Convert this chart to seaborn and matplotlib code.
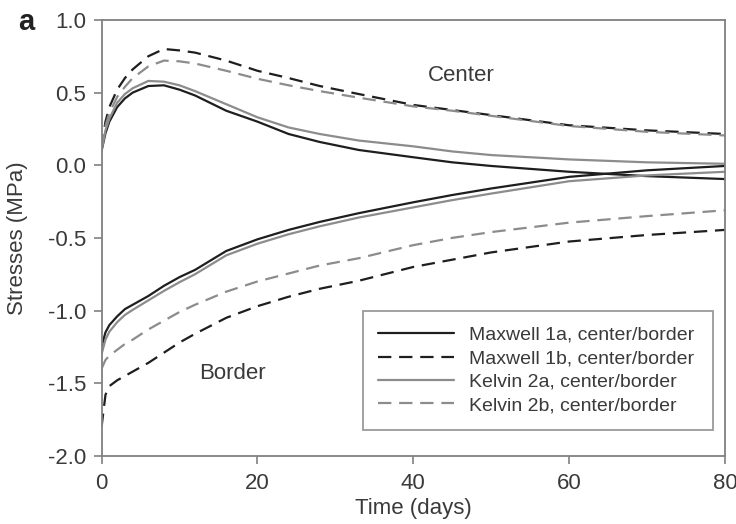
import matplotlib
matplotlib.use("Agg")
import matplotlib.pyplot as plt
from matplotlib.lines import Line2D
import seaborn as sns

# time axis (days)
t = [0, 0.5, 1, 2, 3, 4, 6, 8, 10, 12, 16, 20, 24, 28, 33, 40, 45, 50, 60, 70, 80]

# center stresses (MPa)
max1a_center = [0.10, 0.22, 0.30, 0.40, 0.46, 0.50, 0.545, 0.55, 0.52, 0.48, 0.375, 0.30,
                0.215, 0.16, 0.105, 0.055, 0.02, -0.005, -0.045, -0.075, -0.095]
max1b_center = [0.12, 0.30, 0.40, 0.52, 0.60, 0.66, 0.75, 0.80, 0.79, 0.775, 0.72, 0.65,
                0.60, 0.545, 0.49, 0.415, 0.38, 0.345, 0.275, 0.24, 0.215]
kel2a_center = [0.10, 0.24, 0.32, 0.43, 0.49, 0.53, 0.58, 0.575, 0.55, 0.51, 0.42, 0.33,
                0.26, 0.215, 0.17, 0.13, 0.095, 0.07, 0.04, 0.02, 0.01]
kel2b_center = [0.12, 0.27, 0.36, 0.47, 0.54, 0.60, 0.68, 0.72, 0.715, 0.70, 0.65, 0.595,
                0.55, 0.51, 0.465, 0.405, 0.375, 0.34, 0.27, 0.23, 0.205]

# border stresses (MPa)
max1a_border = [-1.25, -1.15, -1.10, -1.04, -0.99, -0.96, -0.90, -0.83, -0.77, -0.72, -0.59,
                -0.51, -0.445, -0.39, -0.33, -0.255, -0.205, -0.16, -0.08, -0.035, -0.005]
max1b_border = [-1.80, -1.58, -1.52, -1.48, -1.45, -1.42, -1.36, -1.29, -1.22, -1.16, -1.05,
                -0.97, -0.905, -0.85, -0.795, -0.70, -0.65, -0.60, -0.525, -0.48, -0.445]
kel2a_border = [-1.30, -1.20, -1.145, -1.08, -1.03, -0.995, -0.93, -0.865, -0.805, -0.75, -0.62,
                -0.54, -0.475, -0.42, -0.36, -0.29, -0.24, -0.195, -0.11, -0.07, -0.045]
kel2b_border = [-1.40, -1.34, -1.31, -1.27, -1.23, -1.20, -1.13, -1.07, -1.01, -0.96, -0.87,
                -0.80, -0.745, -0.69, -0.64, -0.55, -0.50, -0.46, -0.395, -0.35, -0.31]

labels = ["Maxwell 1a, center/border", "Maxwell 1b, center/border",
          "Kelvin 2a, center/border", "Kelvin 2b, center/border"]
yticks = [-2.0, -1.5, -1.0, -0.5, 0.0, 0.5, 1.0]
xticks = [0, 20, 40, 60, 80]

sns.set_theme(style="ticks")
plt.rcParams["font.family"] = ["Liberation Sans", "DejaVu Sans"]

dark = "#1e1e1e"
grey = "#8c8c8c"
axcol = "#808080"
txt = "#3a3a3a"
dash = (0, (6, 3.5))

series = [
    (max1a_center, max1a_border, dark, "-"),
    (max1b_center, max1b_border, dark, dash),
    (kel2a_center, kel2a_border, grey, "-"),
    (kel2b_center, kel2b_border, grey, dash),
]

fig = plt.figure(figsize=(7.36, 5.24), dpi=100)
ax = fig.add_axes([0.138, 0.130, 0.847, 0.832])

for c, b, col, ls in series:
    for y in (c, b):
        sns.lineplot(x=t, y=y, ax=ax, color=col, linestyle=ls, linewidth=1.6, legend=False)

ax.set_xlim(0, 80)
ax.set_ylim(-2.0, 1.0)
ax.set_xticks(xticks)
ax.set_yticks(yticks)
ax.set_yticklabels([f"{v:.1f}" for v in yticks])

for s in ax.spines.values():
    s.set_color(axcol)
    s.set_linewidth(1.3)
    s.set_visible(True)
ax.tick_params(colors=axcol, labelcolor=txt, labelsize=16, length=5.5, width=1.2,
               direction="out")
ax.tick_params(axis="x", pad=7)
ax.tick_params(axis="y", pad=5.5)

ax.set_xlabel("Time (days)", fontsize=16, color=txt, labelpad=3)
ax.set_ylabel("Stresses (MPa)", fontsize=16, color=txt)
ax.yaxis.set_label_coords(-0.118, 0.5)

ax.text(46.2, 0.62, "Center", fontsize=16, color=txt, ha="center", va="center")
ax.text(16.8, -1.43, "Border", fontsize=16, color=txt, ha="center", va="center")
fig.text(0.035, 0.958, "a", fontsize=21, fontweight="bold", color="#222222",
         ha="center", va="center")

handles = [Line2D([], [], color=col, linestyle=ls, linewidth=1.6) for _, _, col, ls in series]
leg = ax.legend(handles, labels, loc="upper left", bbox_to_anchor=(0.419, 0.333, 0.5615, 0.0),
                mode="expand", frameon=True, fancybox=False, fontsize=14, handlelength=3.9,
                borderpad=0.8, labelspacing=0.3, handletextpad=0.75, borderaxespad=0)
leg.get_frame().set_edgecolor(axcol)
leg.get_frame().set_linewidth(1.3)
for tx in leg.get_texts():
    tx.set_color(txt)

fig.savefig("out.png", dpi=100)
